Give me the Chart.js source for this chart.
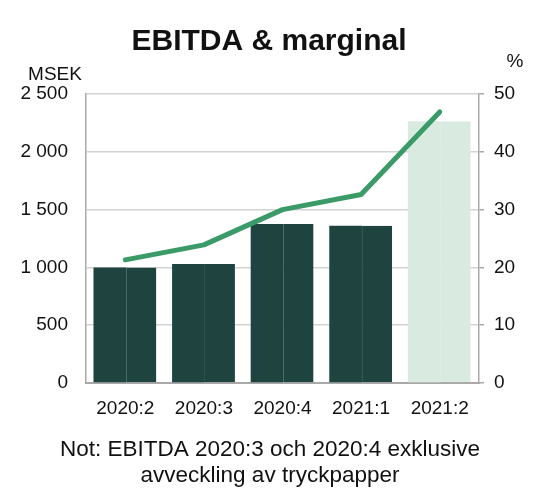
<!DOCTYPE html>
<html>
<head>
<meta charset="utf-8">
<script src="https://cdn.jsdelivr.net/npm/chart.js@4.4.1/dist/chart.umd.min.js"></script>
<style>
  html, body { margin: 0; padding: 0; background: #ffffff; }
  #wrap { width: 550px; height: 500px; position: relative; }
</style>
</head>
<body>
<div id="wrap"><canvas id="c" width="550" height="500"></canvas></div>
<script>
const categories = ['2020:2', '2020:3', '2020:4', '2021:1', '2021:2'];
const ebitda = [1000, 1030, 1375, 1360, 2265];
const margin = [21.3, 23.9, 30.0, 32.6, 46.9];
const leftTicks = [0, 500, 1000, 1500, 2000, 2500];
const rightTicks = [0, 10, 20, 30, 40, 50];
const titleText = 'EBITDA & marginal';
const leftUnit = 'MSEK';
const rightUnit = '%';
const noteLines = ['Not: EBITDA 2020:3 och 2020:4 exklusive', 'avveckling av tryckpapper'];

const DARK = '#1f433f';
const DIVIDER = '#47655f';
const LIGHT = '#d9eae0';
const LINE = '#3a9a68';
const FONT = '"Liberation Sans", Arial, sans-serif';

const barColors = categories.map((c, i) => i === categories.length - 1 ? LIGHT : DARK);
const dividerColors = categories.map((c, i) => i === categories.length - 1 ? LIGHT : DIVIDER);

const fmt = v => String(v).replace(/\B(?=(\d{3})+(?!\d))/g, ' ');

const textPlugin = {
  id: 'texts',
  afterDraw(chart) {
    const ctx = chart.ctx;
    ctx.save();
    ctx.fillStyle = '#111111';
    ctx.textAlign = 'center';
    ctx.textBaseline = 'middle';
    ctx.font = 'bold 30px ' + FONT;
    ctx.fillText(titleText, 269, 42);
    ctx.font = '19px ' + FONT;
    ctx.fillText(leftUnit, 55, 75);
    ctx.fillText(rightUnit, 515, 62);
    ctx.textBaseline = 'alphabetic';
    ctx.font = '22.5px ' + FONT;
    noteLines.forEach((t, i) => ctx.fillText(t, 270, 456 + i * 25.5));
    ctx.restore();
  }
};

new Chart(document.getElementById('c'), {
  data: {
    labels: categories,
    datasets: [
      {
        type: 'line',
        data: margin,
        yAxisID: 'y1',
        borderColor: LINE,
        borderWidth: 5,
        pointRadius: 0,
        tension: 0,
        borderCapStyle: 'round',
        borderJoinStyle: 'round',
        order: 0
      },
      {
        type: 'bar',
        data: ebitda,
        yAxisID: 'y',
        backgroundColor: barColors,
        borderWidth: 0,
        categoryPercentage: 0.79,
        barPercentage: 1.05,
        order: 1
      },
      {
        type: 'bar',
        data: ebitda,
        yAxisID: 'y',
        backgroundColor: barColors,
        borderColor: dividerColors,
        borderWidth: { left: 1, top: 0, right: 0, bottom: 0 },
        borderSkipped: false,
        categoryPercentage: 0.79,
        barPercentage: 1.0,
        order: 1
      }
    ]
  },
  options: {
    responsive: false,
    animation: false,
    devicePixelRatio: 1,
    layout: { padding: { top: 94, left: 0, right: 0, bottom: 0 } },
    plugins: {
      legend: { display: false },
      tooltip: { enabled: false },
      title: { display: false }
    },
    scales: {
      x: {
        grid: { display: false, drawTicks: false },
        border: { display: true, color: '#a9a9a9', width: 2 },
        ticks: { color: '#111111', font: { size: 19, family: FONT }, padding: 14, maxRotation: 0 },
        afterFit(s) { s.height = 117; }
      },
      y: {
        position: 'left',
        min: 0,
        max: 2500,
        afterBuildTicks(s) { s.ticks = leftTicks.map(v => ({ value: v })); },
        grid: { color: '#d3d3d3', lineWidth: 1.5, drawTicks: false },
        border: { display: true, color: '#a9a9a9', width: 1.5 },
        ticks: { color: '#111111', font: { size: 19, family: FONT }, padding: 18, callback: v => fmt(v) },
        afterFit(s) { s.width = 86; }
      },
      y1: {
        position: 'right',
        min: 0,
        max: 50,
        afterBuildTicks(s) { s.ticks = rightTicks.map(v => ({ value: v })); },
        grid: { drawOnChartArea: false, color: '#a9a9a9', tickLength: 5, lineWidth: 1.5 },
        border: { display: true, color: '#a9a9a9', width: 1.5 },
        ticks: { color: '#111111', font: { size: 19, family: FONT }, padding: 10 },
        afterFit(s) { s.width = 71; }
      }
    }
  },
  plugins: [textPlugin]
});
</script>
</body>
</html>
